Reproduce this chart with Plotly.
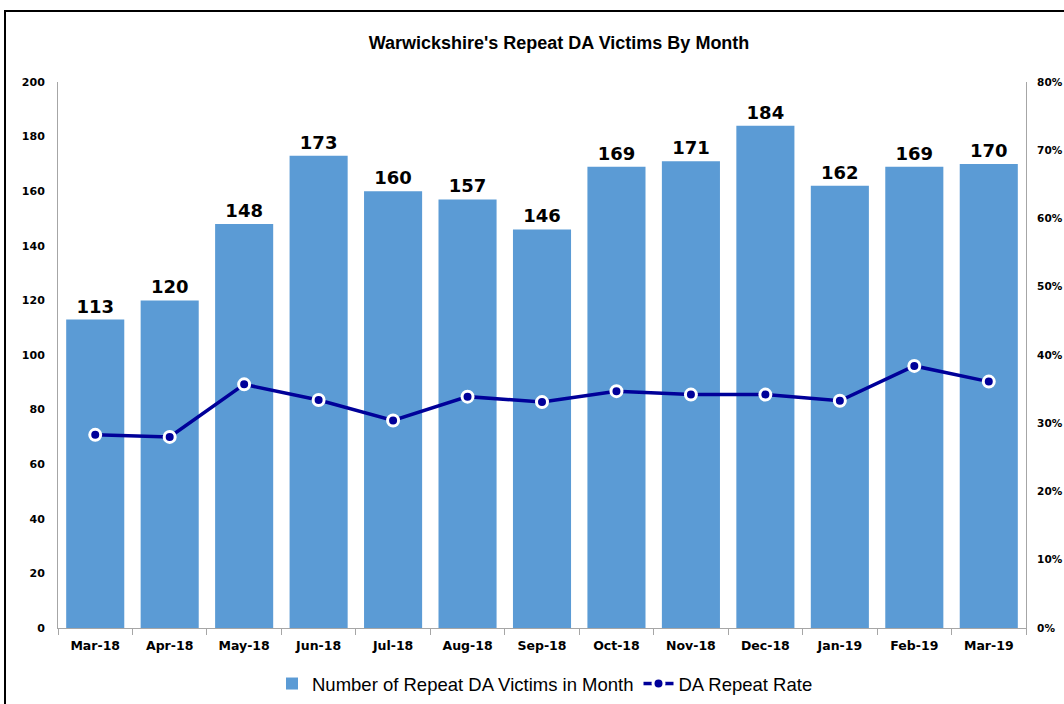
import plotly.graph_objects as go

months = ["Mar-18", "Apr-18", "May-18", "Jun-18", "Jul-18", "Aug-18", "Sep-18",
          "Oct-18", "Nov-18", "Dec-18", "Jan-19", "Feb-19", "Mar-19"]
victims = [113, 120, 148, 173, 160, 157, 146, 169, 171, 184, 162, 169, 170]
repeat_rate = [0.283, 0.280, 0.357, 0.334, 0.304, 0.339, 0.331,
               0.347, 0.342, 0.342, 0.333, 0.384, 0.361]

fig = go.Figure()
fig.add_trace(go.Bar(
    x=months, y=victims, name="Number of Repeat DA Victims in Month",
    marker=dict(color="#5B9BD5", line=dict(width=0)),
    text=[str(v) for v in victims], textposition="outside",
    textfont=dict(family="DejaVu Sans", size=18, color="black"),
    texttemplate="<b>%{text}</b>", cliponaxis=False,
))
fig.add_trace(go.Scatter(
    x=months, y=repeat_rate, name="DA Repeat Rate", yaxis="y2",
    mode="lines+markers",
    line=dict(color="#000099", width=3.5),
    marker=dict(color="#000099", size=11, line=dict(color="white", width=3)),
))

axis_font = dict(family="DejaVu Sans", size=11, color="black")
fig.update_layout(
    width=1064, height=704,
    margin=dict(l=58, r=38, t=82, b=76, autoexpand=False),
    paper_bgcolor="white", plot_bgcolor="white",
    bargap=0.22,
    showlegend=True,
    title=dict(text="<b>Warwickshire's Repeat DA Victims By Month</b>",
               x=(559 - 58) / 968, xref="paper", xanchor="center",
               y=1 - 43 / 704, yanchor="middle", yref="container",
               font=dict(family="Liberation Sans Narrow, Liberation Sans", size=18, color="black")),
    xaxis=dict(
        type="category", range=[-0.5, len(months) - 0.5], autorange=False,
        showline=True, linecolor="#A6A6A6", linewidth=1,
        ticks="outside", tickson="boundaries", ticklen=6, tickcolor="#A6A6A6",
        tickfont=dict(family="DejaVu Sans", size=12.5, color="black"),
        ticklabelstandoff=6, showgrid=False, zeroline=False,
        tickprefix="<b>", ticksuffix="</b>",
    ),
    yaxis=dict(
        range=[0, 200], dtick=20, showline=True, linecolor="#A6A6A6", linewidth=1,
        showgrid=False, zeroline=False, ticks="", tickfont=axis_font,
        ticklabelstandoff=10, tickprefix="<b>", ticksuffix="</b>",
    ),
    yaxis2=dict(
        range=[0, 0.8], dtick=0.1, tickformat=".0%", overlaying="y", side="right",
        showline=True, linecolor="#A6A6A6", linewidth=1,
        showgrid=False, zeroline=False, ticks="", tickfont=dict(family="DejaVu Sans", size=10.5, color="black"),
        ticklabelstandoff=8, tickprefix="<b>", ticksuffix="</b>",
    ),
    legend=dict(orientation="h", x=(545 - 58) / 968, xanchor="center",
                y=-(684 - 628) / 546, yanchor="middle",
                font=dict(family="Liberation Sans Narrow, Liberation Sans", size=18.5, color="black"),
                bgcolor="rgba(0,0,0,0)"),
    shapes=[dict(type="rect", xref="paper", yref="paper",
                 x0=(5 - 58) / 968, x1=1.3, y0=-0.5, y1=(628 - 11) / 546,
                 line=dict(color="black", width=2), layer="below")],
)

fig.write_html(
    "out.html",
    config={"responsive": False, "displayModeBar": False},
    post_script="document.body.style.margin='0';document.body.style.overflow='hidden';"
                "document.documentElement.style.overflow='hidden';",
)
